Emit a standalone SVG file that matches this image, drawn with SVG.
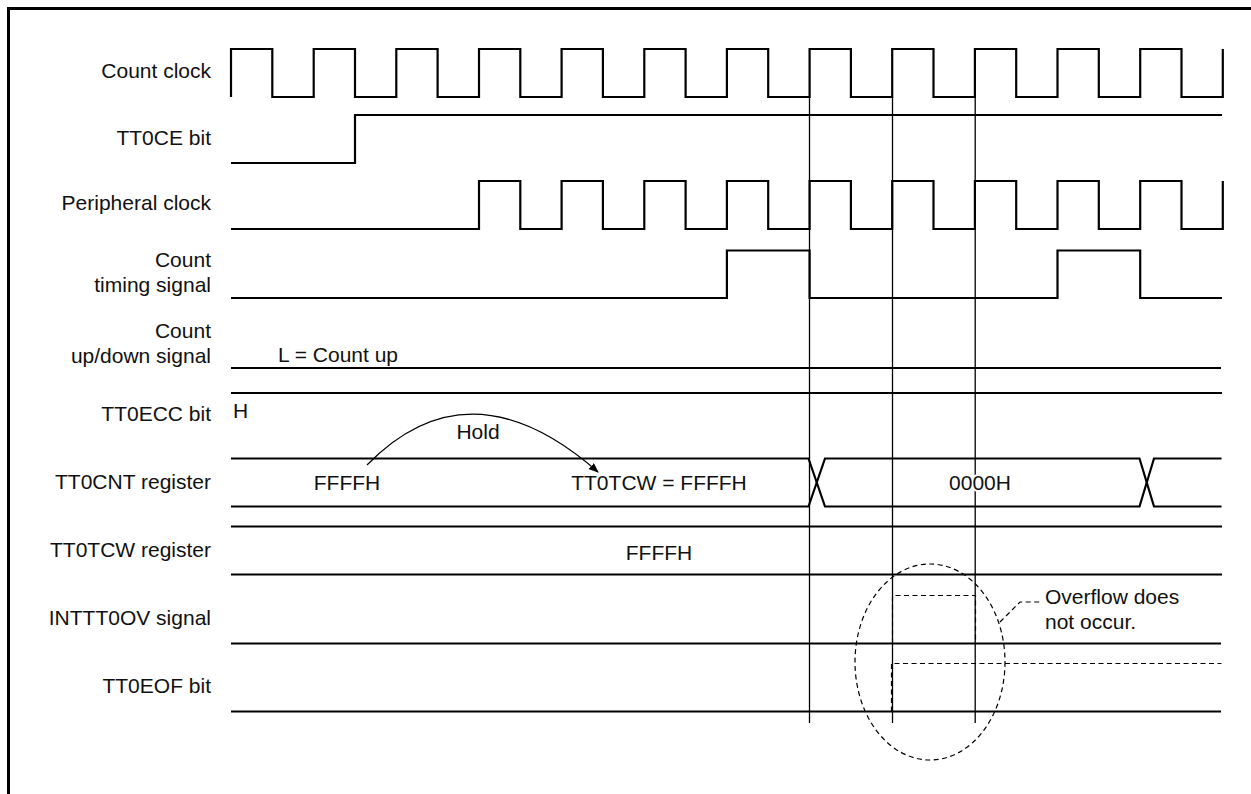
<svg xmlns="http://www.w3.org/2000/svg" width="1251" height="794" viewBox="0 0 1251 794">
<style>
.t{font-family:"Liberation Sans",Arial,sans-serif;font-size:21px;fill:#111}
.l{text-anchor:end}
.m{text-anchor:middle}
.w{fill:none;stroke:#000;stroke-width:2.2}
.g{fill:none;stroke:#000;stroke-width:1.3}
.d{fill:none;stroke:#000;stroke-width:1.2;stroke-dasharray:5,3.5}
</style>
<defs>
<marker id="ah" markerWidth="10" markerHeight="8" refX="9" refY="4" orient="auto" markerUnits="userSpaceOnUse">
<path d="M0,0 L10,4 L0,8 Z" fill="#000"/>
</marker>
</defs>
<rect width="1251" height="794" fill="#fff"/>
<path d="M8.5,794 V8.5 H1251" fill="none" stroke="#000" stroke-width="3"/>

<g id="labels">
<text class="t l" x="211" y="78">Count clock</text>
<text class="t l" x="211" y="145">TT0CE bit</text>
<text class="t l" x="211" y="210">Peripheral clock</text>
<text class="t l" x="211" y="267">Count</text>
<text class="t l" x="211" y="292">timing signal</text>
<text class="t l" x="211" y="338">Count</text>
<text class="t l" x="211" y="363">up/down signal</text>
<text class="t l" x="211" y="421">TT0ECC bit</text>
<text class="t l" x="211" y="489">TT0CNT register</text>
<text class="t l" x="211" y="557">TT0TCW register</text>
<text class="t l" x="211" y="625">INTTT0OV signal</text>
<text class="t l" x="211" y="693">TT0EOF bit</text>
</g>

<g id="count-clock">
<path class="w" d="M231,97 V49 H272.3 V97 H313.7 V49 H355 V97 H396.3 V49 H437.6 V97 H479 V49 H520.3 V97 H561.6 V49 H602.9 V97 H644.3 V49 H685.6 V97 H726.9 V49 H768.2 V97 H809.6 V49 H850.9 V97 H892.2 V49 H933.5 V97 H974.9 V49 H1016.2 V97 H1057.5 V49 H1098.8 V97 H1140.2 V49 H1181.5 V97 H1222.8 V49"/>
</g>
<g id="tt0ce-bit">
<path class="w" d="M231,163 H355 V115 H1222"/>
</g>
<g id="peripheral-clock">
<path class="w" d="M231,229 H479 V181 H520.3 V229 H561.6 V181 H602.9 V229 H644.3 V181 H685.6 V229 H726.9 V181 H768.2 V229 H809.6 V181 H850.9 V229 H892.2 V181 H933.5 V229 H974.9 V181 H1016.2 V229 H1057.5 V181 H1098.8 V229 H1140.2 V181 H1181.5 V229 H1222.8 V181"/>
</g>
<g id="count-timing">
<path class="w" d="M231,298 H726.9 V250.5 H809.6 V298 H1057.5 V250.5 H1140.2 V298 H1222"/>
</g>
<g id="updown">
<path class="w" d="M231,368 H1221"/>
<text class="t m" x="338" y="362">L = Count up</text>
</g>
<g id="tt0ecc">
<path class="w" d="M231,393 H1222"/>
<text class="t" x="233" y="418">H</text>
</g>

<g id="connectors">
<path class="g" d="M809.5,97 V723 M892.5,97 V723 M975.2,97 V723"/>
<path fill="none" stroke="#000" stroke-width="1.2" d="M367,465 Q470,360 598,472" marker-end="url(#ah)"/>
<text class="t m" x="478" y="439">Hold</text>
<ellipse class="d" cx="930" cy="662" rx="75" ry="98"/>
<path class="d" d="M1000,622 L1020,602 H1042"/>
<text class="t" x="1045" y="604">Overflow does</text>
<text class="t" x="1045" y="629">not occur.</text>
</g>

<g id="tt0cnt">
<path class="w" d="M231,458.5 H808.5 L825,506.5 H1139.5 L1154,458.5 H1221.5"/>
<path class="w" d="M231,506.5 H808.5 L825,458.5 H1139.5 L1154,506.5 H1221.5"/>
<text class="t m" x="347" y="490">FFFFH</text>
<text class="t m" x="659" y="490">TT0TCW = FFFFH</text>
<text class="t m" x="980" y="490" stroke="#fff" stroke-width="4" paint-order="stroke">0000H</text>
</g>
<g id="tt0tcw">
<path class="w" d="M231,526.5 H1222 M231,574.5 H1222"/>
<text class="t m" x="659" y="560">FFFFH</text>
</g>
<g id="intttoov">
<path class="w" d="M231,643.5 H1221"/>
<path class="d" d="M892.5,643.5 V595.5 H975.5 V643.5"/>
</g>
<g id="tt0eof">
<path class="w" d="M231,711.5 H1221"/>
<path class="d" d="M891.5,711.5 V663.5 H1221.5"/>
</g>
</svg>
